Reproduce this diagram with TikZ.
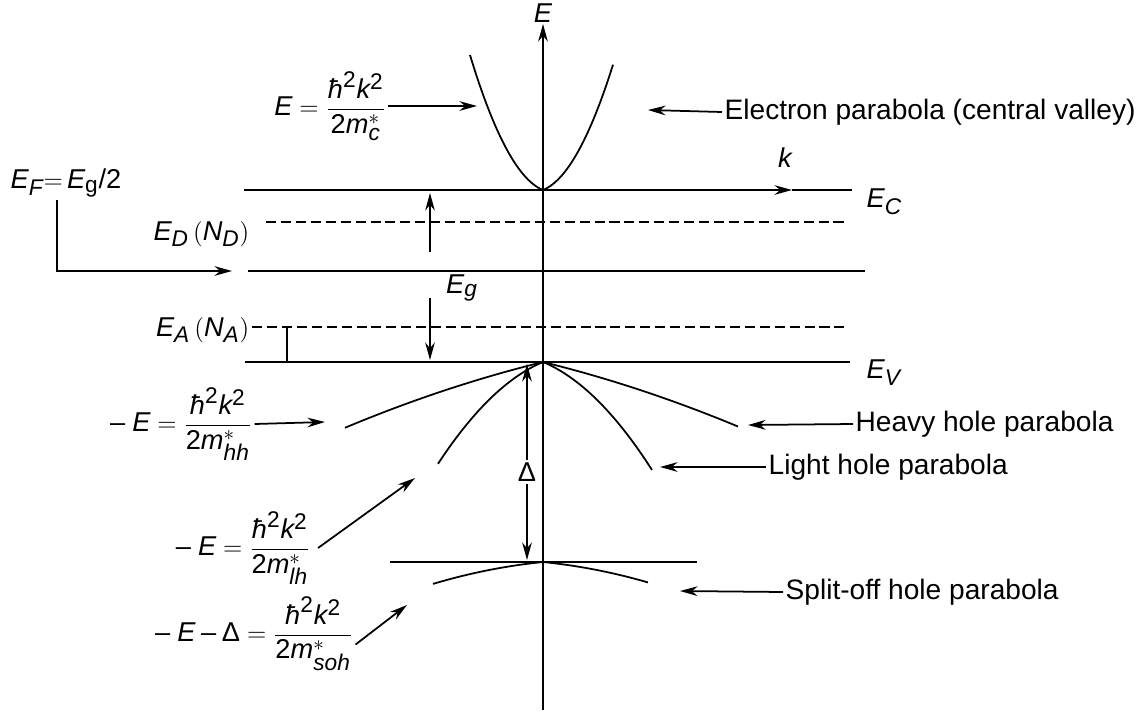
\documentclass[tikz,border=0pt]{standalone}
\usepackage{amsmath}
\usepackage{fontspec}
\setmainfont{Liberation Sans}
\usepackage[italic]{mathastext}
\usetikzlibrary{arrows.meta}
\newcommand{\hb}{\mbox{\itshape ħ}}
\newcommand{\tw}{\text{\upshape 2}}
\newcommand{\Dl}{\text{\upshape Δ}}

\begin{document}
\begin{tikzpicture}[x=0.02cm, y=-0.02cm, line width=1pt,
    >={Stealth[length=10pt,width=5.5pt]},
    every node/.style={font=\fontsize{15.5}{18}\selectfont, inner sep=1pt},
    dlevel/.style={dash pattern=on 5.7pt off 2.8pt},
    names/.style={anchor=west, font=\fontsize{16}{19}\selectfont}]

    \useasboundingbox (0,0) rectangle (1144,711);

    % band levels
    \coordinate (ECl) at (244,190); \coordinate (ECk) at (792,190); \coordinate (ECr) at (852,190);
    \coordinate (EDl) at (266,222); \coordinate (EDr) at (848,222);
    \coordinate (EFl) at (248,271); \coordinate (EFr) at (865,271);
    \coordinate (EAl) at (252,327); \coordinate (EAr) at (848,327);
    \coordinate (EVl) at (245,362); \coordinate (EVr) at (850,362);
    \coordinate (SOl) at (390,562); \coordinate (SOr) at (697,562);
    \draw[->] (ECl) -- (ECk);
    \draw (ECk) -- (ECr);
    \draw[dlevel] (EDl) -- (EDr);
    \draw (EFl) -- (EFr);
    \draw[dlevel] (EAl) -- (EAr);
    \draw (EVl) -- (EVr);
    \draw (SOl) -- (SOr);

    % E axis
    \coordinate (ax0) at (543,710); \coordinate (ax1) at (543,24);
    \draw[->] (ax0) -- (ax1);
    \node (Elab) at (543,13) {$E$};
    \node (klab) at (785,158) {$k$};
    \node[anchor=west] (EClab) at (864,202) {$E_C$};
    \node[anchor=west] (EVlab) at (864,373) {$E_V$};

    % parabolas
    \draw plot[domain=-73:70, samples=60] ({543+\x},{190-0.4*abs(\x)-(0.1409*\x)^2});
    \draw plot[domain=-198:195, samples=80] ({543+\x},{362+0.246*abs(\x)+(0.02086*\x)^2});
    \draw plot[domain=-105:109, samples=60] ({543+\x},{362+0.416*abs(\x)+(0.0726*\x)^2});
    \draw plot[domain=-110:105, samples=60] ({543+\x},{562+0.1*abs(\x)+(0.03*\x)^2});

    % gap and split-off arrows
    \node (Eglab) at (462,288) {$E_g$};
    \coordinate (gu0) at (430,252); \coordinate (gu1) at (430,193);
    \coordinate (gd0) at (430,298); \coordinate (gd1) at (430,360);
    \draw[->] (gu0) -- (gu1);
    \draw[->] (gd0) -- (gd1);
    \node (Dlab) at (527,472) {$\Dl$};
    \coordinate (Dtop) at (527,364); \coordinate (Dbot) at (527,560);
    \draw[->] (Dlab.north) -- (Dtop);
    \draw[->] (Dlab.south) -- (Dbot);
    \coordinate (Atick) at (287,327);
    \draw (Atick) -- (Atick |- EVl);

    % level labels
    \node (EFlab) at (66,183) {$E_F{=}\,E_\mathrm{g}/\tw$};
    \node[anchor=east] (EDlab) at (252,234) {$E_D\,(N_D)$};
    \node[anchor=east] (EAlab) at (252,330) {$E_A\,(N_A)$};
    \coordinate (EFbend) at (57,271); \coordinate (EFtip) at (232,271);
    \draw[->] (EFlab.south -| EFbend) -- (EFbend) -- (EFtip);

    % formulas
    \node (fc) at (330,106) {$E=\dfrac{\hb^\tw k^\tw}{\tw m^*_c}$};
    \node (fhh) at (181,424) {$-\;E=\dfrac{\hb^\tw k^\tw}{\tw m^*_{hh}}$};
    \node (flh) at (243,548) {$-\;E=\dfrac{\hb^\tw k^\tw}{\tw m^*_{lh}}$};
    \node (fso) at (254,634) {$-\;E-\Dl=\dfrac{\hb^\tw k^\tw}{\tw m^*_{soh}}$};
    \coordinate (fct) at (477,106);
    \coordinate (fhht) at (325,422);
    \coordinate (flht) at (415,478);
    \coordinate (fsot) at (407,605);
    \draw[->] (fc.east) -- (fct);
    \draw[->] (fhh.east) -- (fhht);
    \draw[->] ([xshift=3pt]flh.east) -- (flht);
    \draw[->] ([yshift=-6pt]fso.east) -- (fsot);

    % parabola names
    \node[names] (elp) at (722,112) {Electron parabola (central valley)};
    \node[names] (hhp) at (853,424) {Heavy hole parabola};
    \node[names] (lhp) at (766,467) {Light hole parabola};
    \node[names] (sop) at (783,592) {Split-off hole parabola};
    \coordinate (elt) at (648,110);
    \coordinate (hht) at (748,425);
    \coordinate (lht) at (660,467);
    \coordinate (sot) at (680,591);
    \draw[->] (elp.west) -- (elt);
    \draw[->] (hhp.west) -- (hht);
    \draw[->] (lhp.west) -- (lht);
    \draw[->] (sop.west) -- (sot);
\end{tikzpicture}
\end{document}
